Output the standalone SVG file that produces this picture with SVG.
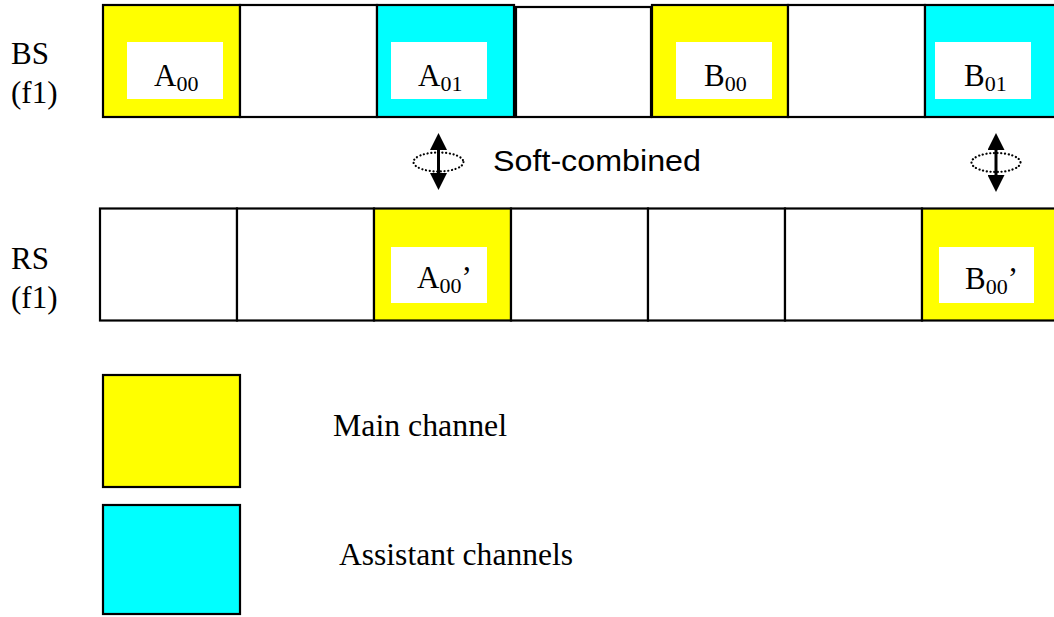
<svg xmlns="http://www.w3.org/2000/svg" width="1054" height="617" viewBox="0 0 1054 617">
<style>
.cell{stroke:#000;stroke-width:2.2;}
.y{fill:#FFFF00;}
.c{fill:#00FFFF;}
.w{fill:#FFFFFF;}
.lbl{fill:#FFFFFF;stroke:none;}
.t{font-family:"Liberation Serif","Times New Roman",serif;font-size:31px;fill:#000;}
.sub{font-size:22px;}
.s{font-family:"Liberation Sans",Arial,sans-serif;font-size:29px;fill:#000;}
.shaft{stroke:#000;stroke-width:3;fill:none;}
.ell{fill:none;stroke:#000;stroke-width:2.2;stroke-dasharray:0.1 3.6;stroke-linecap:round;}
</style>
<defs>
<marker id="ah" viewBox="0 0 10 10" refX="0" refY="5" markerWidth="17" markerHeight="17" markerUnits="userSpaceOnUse" orient="auto-start-reverse">
<path d="M0,0 L10,5 L0,10 Z" fill="#000"/>
</marker>
</defs>
<rect width="1054" height="617" fill="#fff"/>

<g id="row-labels">
<text class="t" x="11" y="64">BS</text>
<text class="t" x="11" y="103">(f1)</text>
<text class="t" x="11" y="269">RS</text>
<text class="t" x="11" y="308">(f1)</text>
</g>

<g id="bs-row">
<g id="bs-a00"><rect class="cell y" x="103" y="5" width="137" height="112"/><rect class="lbl" x="127" y="42" width="96" height="57"/><text class="t" x="154" y="86">A<tspan class="sub" dy="5">00</tspan></text></g>
<g id="bs-2"><rect class="cell w" x="240" y="5" width="137" height="112"/></g>
<g id="bs-a01"><rect class="cell c" x="377" y="5" width="137" height="112"/><rect class="lbl" x="391" y="42" width="96" height="57"/><text class="t" x="418" y="86">A<tspan class="sub" dy="5">01</tspan></text></g>
<g id="bs-4"><rect class="cell w" x="516" y="7" width="135" height="110"/></g>
<g id="bs-b00"><rect class="cell y" x="652" y="5" width="136" height="112"/><rect class="lbl" x="676" y="42" width="96" height="57"/><text class="t" x="704" y="86">B<tspan class="sub" dy="5">00</tspan></text></g>
<g id="bs-6"><rect class="cell w" x="788" y="5" width="137" height="112"/></g>
<g id="bs-b01"><rect class="cell c" x="925" y="5" width="140" height="112"/><rect class="lbl" x="935" y="42" width="96" height="57"/><text class="t" x="964" y="86">B<tspan class="sub" dy="5">01</tspan></text></g>
</g>

<g id="rs-row">
<g id="rs-1"><rect class="cell w" x="100" y="208.5" width="137" height="112"/></g>
<g id="rs-2"><rect class="cell w" x="237" y="208.5" width="137" height="112"/></g>
<g id="rs-a00p"><rect class="cell y" x="374" y="208.5" width="137" height="112"/><rect class="lbl" x="391" y="247" width="96" height="56"/><text class="t" x="417" y="288">A<tspan class="sub" dy="5">00</tspan><tspan dy="-5">’</tspan></text></g>
<g id="rs-4"><rect class="cell w" x="511" y="208.5" width="137" height="112"/></g>
<g id="rs-5"><rect class="cell w" x="648" y="208.5" width="137" height="112"/></g>
<g id="rs-6"><rect class="cell w" x="785" y="208.5" width="137" height="112"/></g>
<g id="rs-b00p"><rect class="cell y" x="922" y="208.5" width="140" height="112"/><rect class="lbl" x="939" y="247" width="95" height="56"/><text class="t" x="965" y="289">B<tspan class="sub" dy="5">00</tspan><tspan dy="-5">’</tspan></text></g>
</g>

<g id="connectors">
<line class="shaft" x1="438.5" y1="150" x2="438.5" y2="173" marker-start="url(#ah)" marker-end="url(#ah)"/>
<ellipse class="ell" cx="438.5" cy="162" rx="25" ry="9.5"/>
<line class="shaft" x1="996" y1="150" x2="996" y2="175" marker-start="url(#ah)" marker-end="url(#ah)"/>
<ellipse class="ell" cx="996" cy="162.5" rx="24.5" ry="9.5"/>
</g>

<g id="soft-label">
<text class="s" x="493" y="171" textLength="208" lengthAdjust="spacingAndGlyphs">Soft-combined</text>
</g>

<g id="legend-main">
<rect class="cell y" x="103" y="375" width="137" height="112"/>
<text class="t" x="333" y="436" textLength="174" lengthAdjust="spacingAndGlyphs">Main channel</text>
</g>
<g id="legend-assistant">
<rect class="cell c" x="103" y="505" width="137" height="109"/>
<text class="t" x="339" y="565" textLength="234" lengthAdjust="spacingAndGlyphs">Assistant channels</text>
</g>
</svg>
